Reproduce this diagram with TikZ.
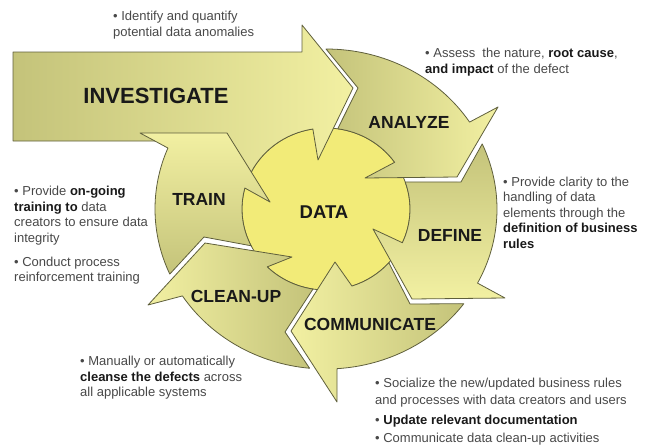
\documentclass[tikz,border=0pt]{standalone}
\usepackage{fontspec}
\setmainfont{Liberation Sans}
\usetikzlibrary{calc}

\definecolor{olivedark}{RGB}{196,195,122}
\definecolor{olivelight}{RGB}{242,240,162}
\definecolor{datafill}{RGB}{242,235,120}
\definecolor{edge}{RGB}{95,95,60}
\definecolor{bodytext}{RGB}{72,72,72}
\definecolor{boldtext}{RGB}{25,25,25}
\newcommand\keyterm[1]{\textbf{\color{boldtext}#1}}

\begin{document}
\begin{tikzpicture}[x=1pt,y=1pt,
  ringpart/.style={draw=edge, line width=0.8pt, line join=round},
  stage/.style={font=\fontsize{17.5}{20}\selectfont\bfseries, text=boldtext, inner sep=0pt},
  % notes are placed by the baseline of their last line
  note/.style={font=\fontsize{13}{15.5}\selectfont, text=bodytext, align=left, anchor=base west, inner sep=0pt},
  outerarc/.style={x radius=171, y radius=160},
  innerarc/.style={x radius=84, y radius=81}
]
\useasboundingbox (0,0) rectangle (645,-447);
\coordinate (C) at (326,-209);

% central DATA disc
\draw[ringpart, fill=datafill] (C) ellipse [x radius=84, y radius=81];

% INVESTIGATE: straight arrow entering the cycle
\draw[ringpart, left color=olivedark, right color=olivelight]
  (13,-52) -- (302,-52) -- (302,-25) -- (353,-88) -- (318,-160)
  -- ($(C)+(99:84 and 81)$) arc[start angle=99, end angle=157, innerarc]
  -- (229,-141) -- (13,-141) -- cycle;

% ANALYZE
\draw[ringpart, left color=olivedark, right color=olivelight]
  ($(C)+(90:171 and 160)$) arc[start angle=90, end angle=32.9, outerarc]
  -- (498,-107) -- (457,-177) -- (365,-178)
  -- ($(C)+(35.2:84 and 81)$) arc[start angle=35.2, end angle=82, innerarc]
  -- (358,-88) -- cycle;

% DEFINE
\draw[ringpart, top color=olivedark, bottom color=olivelight]
  ($(C)+(24:171 and 160)$) arc[start angle=24, end angle=-27.6, outerarc]
  -- (505,-298) -- (412,-299) -- (373,-229)
  -- ($(C)+(-24.6:84 and 81)$) arc[start angle=-24.6, end angle=19.5, innerarc]
  -- (461,-182) -- cycle;

% COMMUNICATE
\draw[ringpart, left color=olivelight, right color=olivedark]
  ($(C)+(-36.3:171 and 160)$) arc[start angle=-36.3, end angle=-86.3, outerarc]
  -- (337,-402) -- (291,-331) -- (335,-262)
  -- ($(C)+(-72:84 and 81)$) arc[start angle=-72, end angle=-41.6, innerarc]
  -- (410,-304) -- cycle;

% CLEAN-UP
\draw[ringpart, left color=olivelight, right color=olivedark]
  ($(C)+(-95.5:171 and 160)$) arc[start angle=-95.5, end angle=-147.1, outerarc]
  -- (148,-305) -- (205,-243) -- (292,-257)
  -- ($(C)+(-134.4:84 and 81)$) arc[start angle=-134.4, end angle=-98.9, innerarc]
  -- (285,-332) -- cycle;

% TRAIN
\draw[ringpart, top color=olivelight, bottom color=olivedark]
  ($(C)+(204:171 and 160)$) arc[start angle=204, end angle=157.6, outerarc]
  -- (140,-133) -- (227,-133) -- (270,-202)
  -- ($(C)+(165:84 and 81)$) arc[start angle=165, end angle=207, innerarc]
  -- (204,-237) -- cycle;

% stage labels
\node[stage, font=\fontsize{22}{24}\selectfont\bfseries] (investigate) at (156,-96) {INVESTIGATE};
\node[stage] (analyze) at (409,-122) {ANALYZE};
\node[stage] (define) at (450,-235) {DEFINE};
\node[stage] (communicate) at (370,-324) {COMMUNICATE};
\node[stage] (cleanup) at (236,-296) {CLEAN-UP};
\node[stage] (train) at (199,-199) {TRAIN};
\node[stage, font=\fontsize{18.5}{20}\selectfont\bfseries] (data) at (324,-212) {DATA};

% notes
\node[note] (investigatenote) at (113,-36) {• Identify and quantify\\potential data anomalies};
\node[note, font=\fontsize{13}{16}\selectfont] (analyzenote) at (425,-73.5) {• Assess~ the nature, \keyterm{root cause},\\\keyterm{and impact} of the defect};
\node[note] (definenote) at (503,-248) {• Provide clarity to the\\handling of data\\elements through the\\\keyterm{definition of business}\\\keyterm{rules}};
\node[note] (trainnote) at (14,-242) {• Provide \keyterm{on-going}\\\keyterm{training to} data\\creators to ensure data\\integrity};
\node[note] (trainnoteb) at (14,-281.5) {• Conduct process\\reinforcement training};
\node[note] (cleanupnote) at (80,-396.5) {• Manually or automatically\\\keyterm{cleanse the defects} across\\all applicable systems};
\node[note, font=\fontsize{13}{17}\selectfont] (communicatenote) at (375,-404.5) {• Socialize the new/updated business rules\\and processes with data creators and users};
\node[note] (communicatenoteb) at (375,-424.5) {• \keyterm{Update relevant documentation}};
\node[note] (communicatenotec) at (375,-442.5) {• Communicate data clean-up activities};
\end{tikzpicture}
\end{document}
